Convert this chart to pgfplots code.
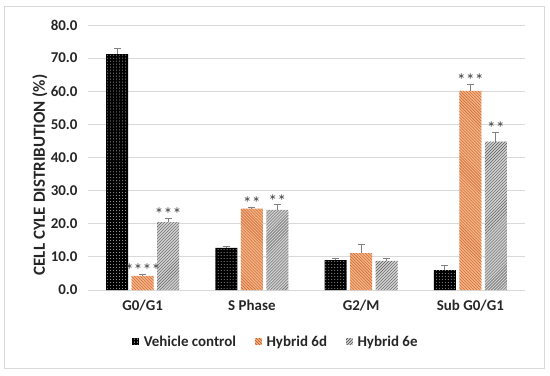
\documentclass[border=0pt]{standalone}
\usepackage{pgfplots}
\pgfplotsset{compat=1.18}
\usetikzlibrary{patterns}
\usepackage{fontspec}
\setmainfont{Carlito}
\definecolor{orng}{HTML}{F4B183}
\definecolor{orngd}{HTML}{C5622A}
\definecolor{gry}{HTML}{D0D0D0}
\definecolor{gryd}{HTML}{595959}
\definecolor{txt}{HTML}{262626}
\definecolor{star}{HTML}{404040}
\definecolor{gridc}{HTML}{D9D9D9}
\begin{document}
\begin{tikzpicture}[x=1bp,y=1bp]
\path (0,0) rectangle (550,-375);
\draw[gridc, line width=1bp] (4,-6) rectangle (544,-368);
\begin{axis}[
  at={(88bp,-290bp)}, anchor=south west,
  scale only axis, width=437bp, height=265bp,
  ymin=0, ymax=80, ytick={0,10,...,80},
  xmin=-0.5, xmax=3.5, xtick={0,1,2,3},
  xticklabels={G0/G1, S Phase, G2/M, Sub G0/G1},
  ybar, bar width=22bp,
  axis line style={draw=none},
  major tick length=0pt,
  ymajorgrids, grid style={gridc, line width=1bp},
  yticklabel style={/pgf/number format/fixed, /pgf/number format/fixed zerofill, /pgf/number format/precision=1, /pgf/number format/assume math mode=true},
  ticklabel style={font=\bfseries\fontsize{15}{15}\selectfont, text=txt},
  yticklabel style={xshift=-7bp},
  xticklabel style={yshift=-6bp},
  ylabel={CELL CYLE DISTRIBUTION (\%)},
  ylabel style={at={(axis description cs:-0.11,0.434)}, anchor=center, rotate=0, font=\bfseries\fontsize{17}{17}\selectfont, text=txt},
  legend style={at={(0.43,-0.196)}, anchor=center, draw=none, fill=none, legend columns=3,
     font=\bfseries\fontsize{15}{15}\selectfont, text=txt,
     /tikz/every even column/.append style={column sep=17bp},
     /tikz/every odd column/.append style={column sep=3bp}},
  error bars/y dir=plus, error bars/y explicit,
  error bars/error bar style={gray, line width=1bp},
  error bars/error mark options={gray, line width=1bp, mark size=3.5bp, rotate=90},
  nodes near coords style={font=\fontsize{18}{18}\selectfont, text=star, inner sep=0bp, yshift=-3bp},
]
\addplot[bar shift=-25.5bp, fill=black, draw=none, postaction={pattern=dots, pattern color=white!70!black},
  legend image code/.code={\draw[fill=black, draw=none, postaction={pattern=dots, pattern color=white!70!black}] (0bp,-3bp) rectangle (6.5bp,3.5bp);}]
  coordinates {(0,71.2) +- (0,1.8) (1,12.7) +- (0,0.4) (2,9.0) +- (0,0.6) (3,6.0) +- (0,1.3)};
\addlegendentry{Vehicle control}
\addplot[bar shift=0bp, fill=orng, draw=none, postaction={pattern=north west lines, pattern color=orngd},
  legend image code/.code={\draw[fill=orng, draw=none, postaction={pattern=north west lines, pattern color=orngd}] (0bp,-3bp) rectangle (6.5bp,3.5bp);}]
  coordinates {(0,4.3) +- (0,0.3) (1,24.6) +- (0,0.3) (2,11.1) +- (0,2.5) (3,60.1) +- (0,1.9)};
\addlegendentry{Hybrid 6d}
\addplot[bar shift=25.5bp, fill=gry, draw=none, postaction={pattern=north east lines, pattern color=gryd},
  legend image code/.code={\draw[fill=gry, draw=none, postaction={pattern=north east lines, pattern color=gryd}] (0bp,-3bp) rectangle (6.5bp,3.5bp);}]
  coordinates {(0,20.5) +- (0,1.2) (1,24.2) +- (0,1.5) (2,8.8) +- (0,0.8) (3,44.8) +- (0,2.9)};
\addlegendentry{Hybrid 6e}
\addplot[bar shift=0bp, draw=none, fill=none, forget plot, nodes near coords, point meta=explicit symbolic, error bars/y dir=none]
  coordinates {(0,4.8)[****] (1,25.1)[**] (3,62.2)[***]};
\addplot[bar shift=25.5bp, draw=none, fill=none, forget plot, nodes near coords, point meta=explicit symbolic, error bars/y dir=none]
  coordinates {(0,21.9)[***] (1,25.9)[**] (3,47.9)[**]};
\end{axis}
\end{tikzpicture}
\end{document}
